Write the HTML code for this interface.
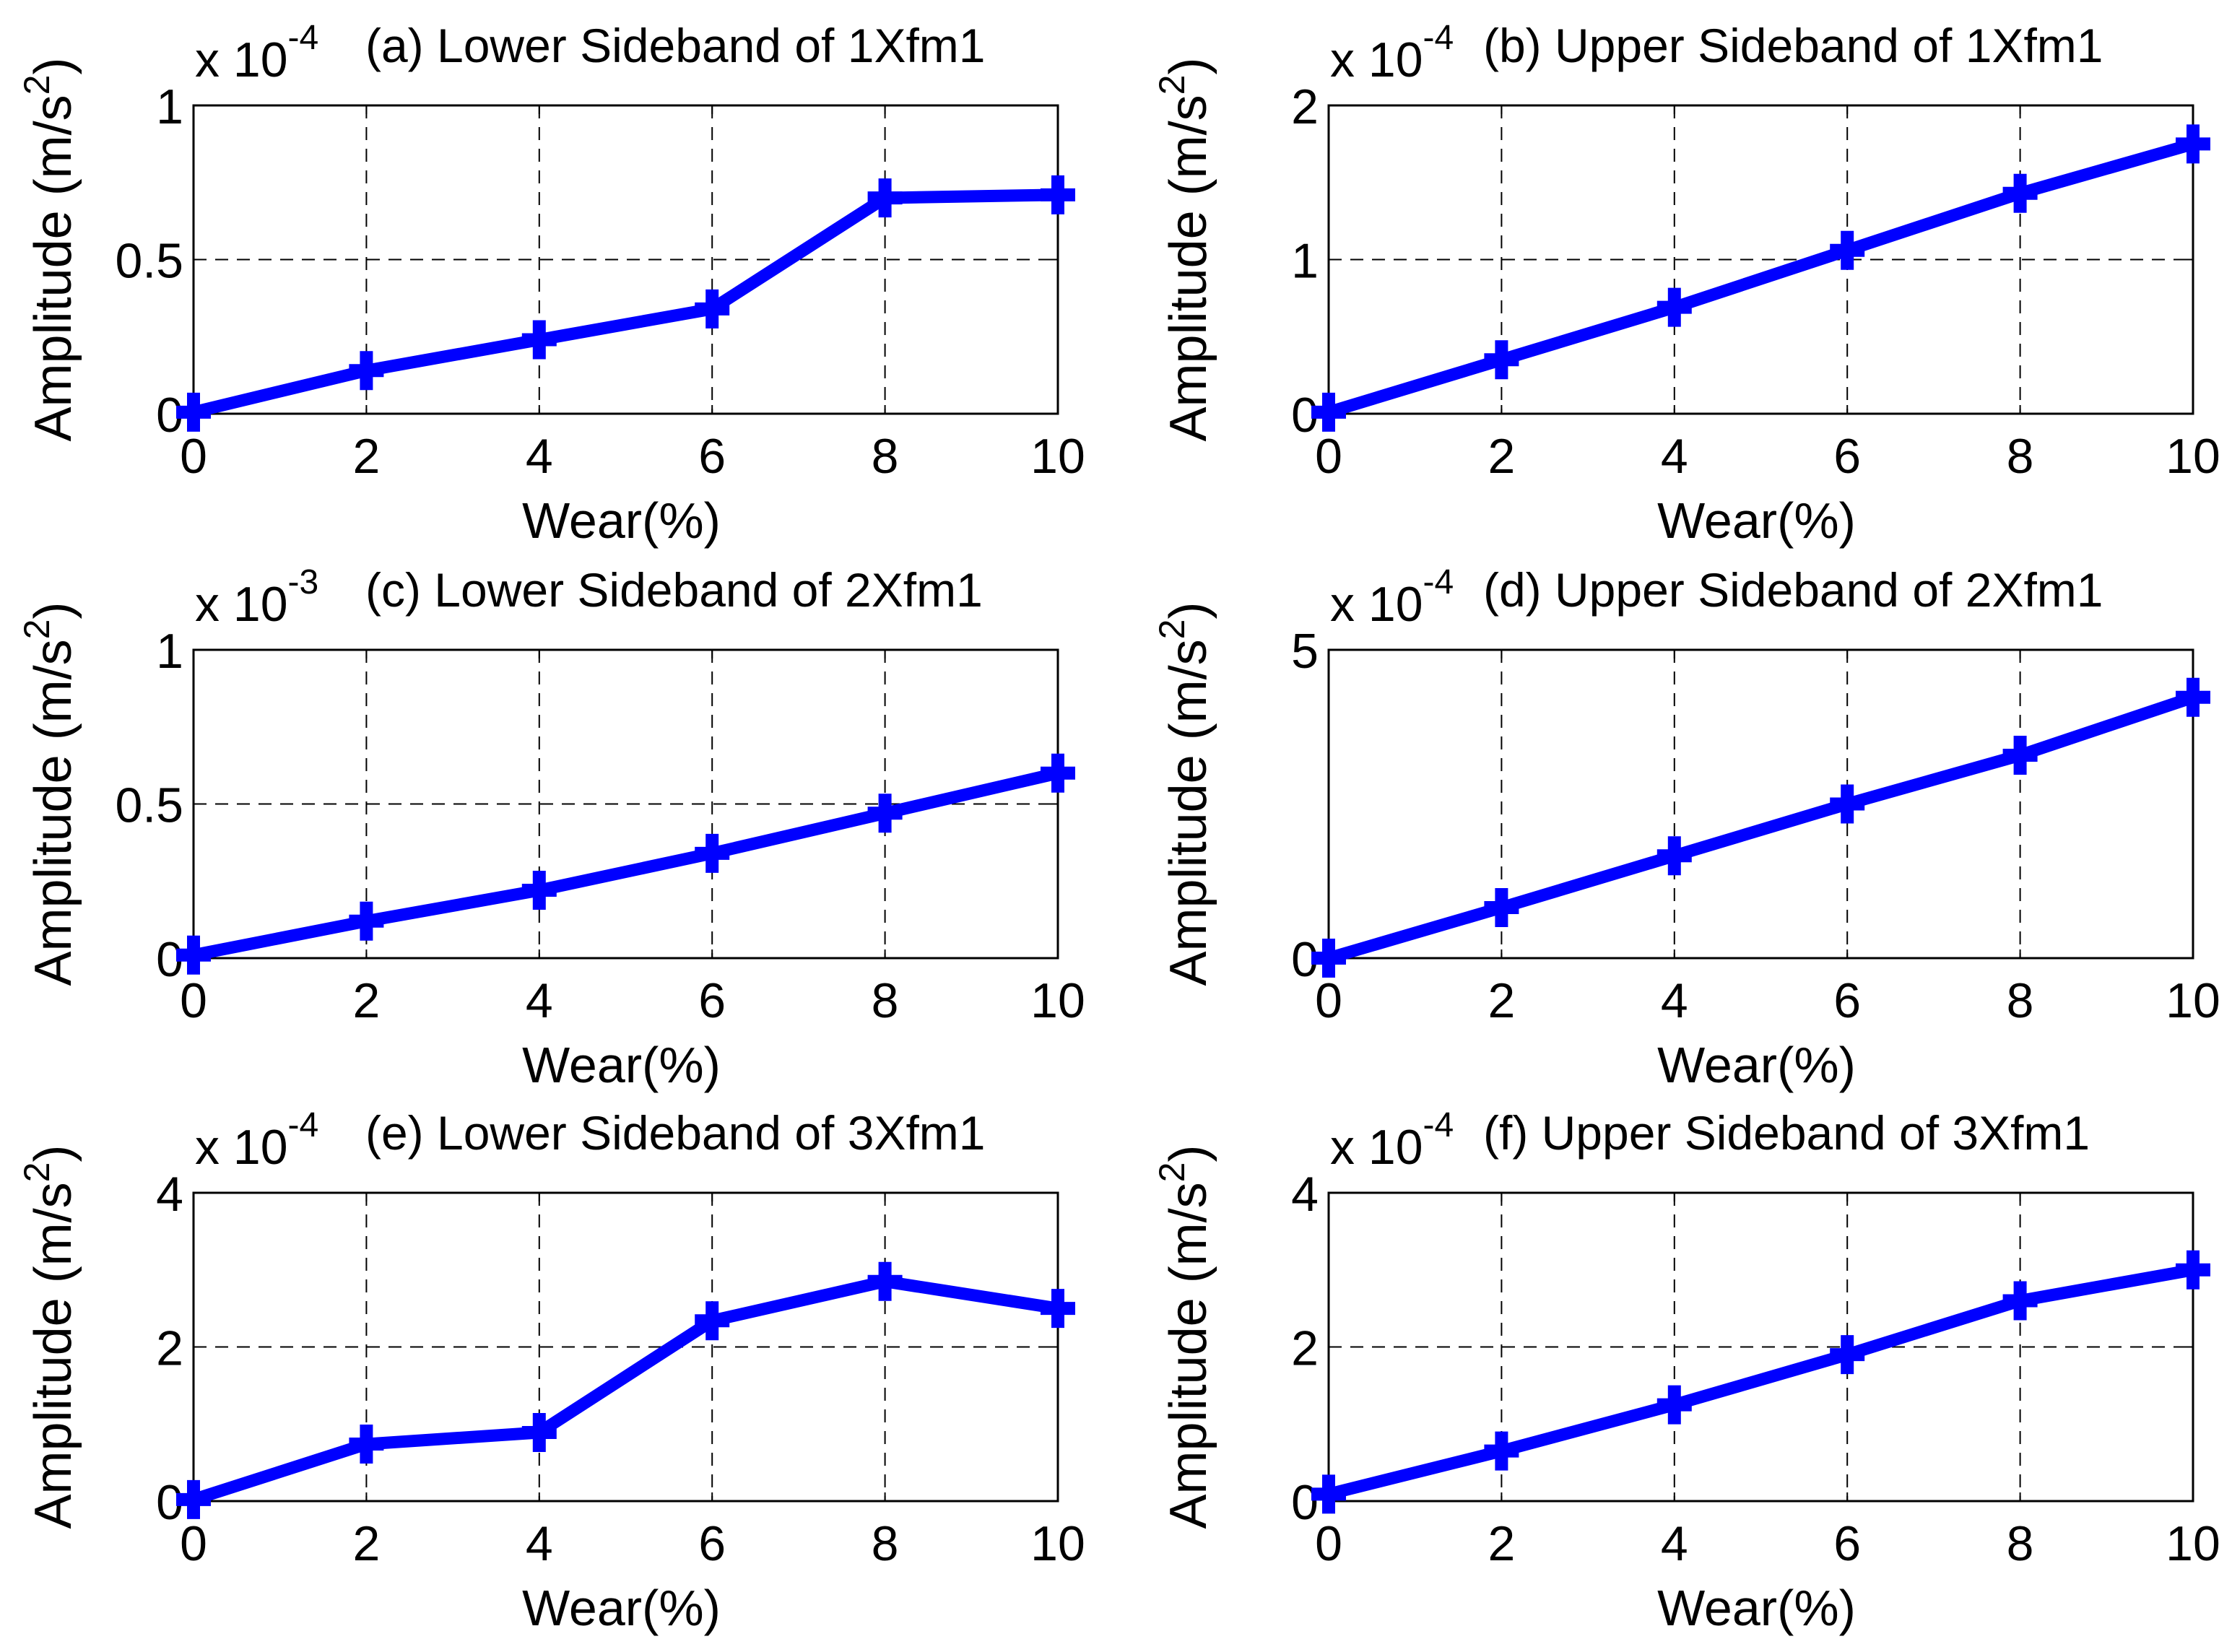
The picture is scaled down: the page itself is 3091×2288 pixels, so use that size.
<!DOCTYPE html>
<html><head><meta charset="utf-8"><style>
html,body{margin:0;padding:0;background:#fff;}
svg{display:block;font-family:"Liberation Sans",Arial,sans-serif;}
</style></head><body>
<svg id="fig" width="3091" height="2288" viewBox="0 0 3091 2288" xmlns="http://www.w3.org/2000/svg"></svg>
<script>
const xCategories = [0, 2, 4, 6, 8, 10];
const seriesA = [0.005, 0.14, 0.24, 0.34, 0.70, 0.71];
const seriesB = [0.01, 0.35, 0.69, 1.06, 1.43, 1.75];
const seriesC = [0.01, 0.12, 0.22, 0.34, 0.47, 0.60];
const seriesD = [0.0, 0.82, 1.66, 2.5, 3.29, 4.23];
const seriesE = [0.02, 0.74, 0.89, 2.34, 2.85, 2.5];
const seriesF = [0.09, 0.65, 1.25, 1.9, 2.6, 3.0];
const yTicksA = [0, 0.5, 1];
const yTicksB = [0, 1, 2];
const yTicksC = [0, 0.5, 1];
const yTicksD = [0, 5];
const yTicksE = [0, 2, 4];
const yTicksF = [0, 2, 4];
const titles = ["(a) Lower Sideband of 1Xfm1","(b) Upper Sideband of 1Xfm1","(c) Lower Sideband of 2Xfm1","(d) Upper Sideband of 2Xfm1","(e) Lower Sideband of 3Xfm1","(f) Upper Sideband of 3Xfm1"];
const exponents = ["-4","-4","-3","-4","-4","-4"];

const NS = "http://www.w3.org/2000/svg";
const svg = document.getElementById('fig');
function mk(tag, attrs, parent, text){
  const e = document.createElementNS(NS, tag);
  for (const k in attrs) e.setAttribute(k, attrs[k]);
  if (text !== undefined) e.textContent = text;
  (parent || svg).appendChild(e);
  return e;
}
const colsX = [268, 1840];
const rowsY = [146, 900, 1652];
const W = 1197, H = 427;
const panels = [
  {s: seriesA, t: yTicksA, labels:["0","0.5","1"]},
  {s: seriesB, t: yTicksB, labels:["0","1","2"]},
  {s: seriesC, t: yTicksC, labels:["0","0.5","1"]},
  {s: seriesD, t: yTicksD, labels:["0","5"]},
  {s: seriesE, t: yTicksE, labels:["0","2","4"]},
  {s: seriesF, t: yTicksF, labels:["0","2","4"]}
];
const FS = 68;
panels.forEach((p, i) => {
  const L = colsX[i % 2], T = rowsY[Math.floor(i / 2)];
  const yMin = p.t[0], yMax = p.t[p.t.length - 1];
  const xs = v => L + (v - 0) / 10 * W;
  const ys = v => T + H - (v - yMin) / (yMax - yMin) * H;
  const g = mk('g', {});
  
  
  xCategories.forEach(v => {
    if (v > 0 && v < 10) {
      const gl = mk('line', {x1: xs(v), x2: xs(v), y1: T, y2: T + H, stroke: '#000', 'stroke-width': 2, 'stroke-dasharray': '18,12'}, g);
      
      
    }
    mk('line', {x1: xs(v), x2: xs(v), y1: T + H, y2: T + H - 12, stroke: '#000', 'stroke-width': 2}, g);
    mk('line', {x1: xs(v), x2: xs(v), y1: T, y2: T + 12, stroke: '#000', 'stroke-width': 2}, g);
    const lb = mk('text', {x: xs(v), y: T + H + 82, 'font-size': FS, 'text-anchor': 'middle', fill: '#000'}, g, String(v));
    
    
  });
  p.t.forEach((v, j) => {
    if (v > yMin && v < yMax) {
      const gl = mk('line', {x1: L, x2: L + W, y1: ys(v), y2: ys(v), stroke: '#000', 'stroke-width': 2, 'stroke-dasharray': '18,12'}, g);
      
      
    }
    mk('line', {x1: L, x2: L + 12, y1: ys(v), y2: ys(v), stroke: '#000', 'stroke-width': 2}, g);
    mk('line', {x1: L + W, x2: L + W - 12, y1: ys(v), y2: ys(v), stroke: '#000', 'stroke-width': 2}, g);
    const lb = mk('text', {x: L - 14, y: ys(v) + 25, 'font-size': FS, 'text-anchor': 'end', fill: '#000'}, g, p.labels[j]);
    
    
  });
  const box = mk('rect', {x: L, y: T, width: W, height: H, fill: 'none', stroke: '#000', 'stroke-width': 3}, g);
  
  
  const pts = p.s.map((v, k) => xs(xCategories[k]) + ',' + ys(v)).join(' ');
  const line = mk('polyline', {points: pts, fill: 'none', stroke: '#0000ff', 'stroke-width': 17, 'stroke-linejoin': 'round'}, g);
  
  
  p.s.forEach((v, k) => {
    const cx = xs(xCategories[k]), cy = ys(v);
    const m = mk('path', {d: `M${cx-24},${cy}H${cx+24}M${cx},${cy-27}V${cy+27}`, stroke: '#0000ff', 'stroke-width': 18, fill: 'none'}, g);
    
    
  });
  const tOff = (i % 2 === 0) ? 238 : 214;
  const ti = mk('text', {x: L + tOff, y: T - 60, 'font-size': 66, fill: '#000'}, g, titles[i]);
  
  
  const ex = mk('text', {x: L + 2, y: T - 40, 'font-size': FS, fill: '#000'}, g);
  
  
  ex.textContent = 'x 10';
  mk('tspan', {dy: -38, 'font-size': 48}, ex, exponents[i]);
  const xl = mk('text', {x: L + W / 2 - 6, y: T + H + 172, 'font-size': 70, 'text-anchor': 'middle', fill: '#000'}, g, 'Wear(%)');
  
  
  const cy = T + H / 2 - 14;
  const yl = mk('text', {x: 0, y: 0, 'font-size': 72, 'text-anchor': 'middle', fill: '#000', transform: `translate(${L - 170},${cy}) rotate(-90)`}, g);
  
  
  yl.textContent = 'Amplitude (m/s';
  mk('tspan', {dy: -30, 'font-size': 50}, yl, '2');
  mk('tspan', {dy: 30}, yl, ')');
});
</script>
</body></html>
